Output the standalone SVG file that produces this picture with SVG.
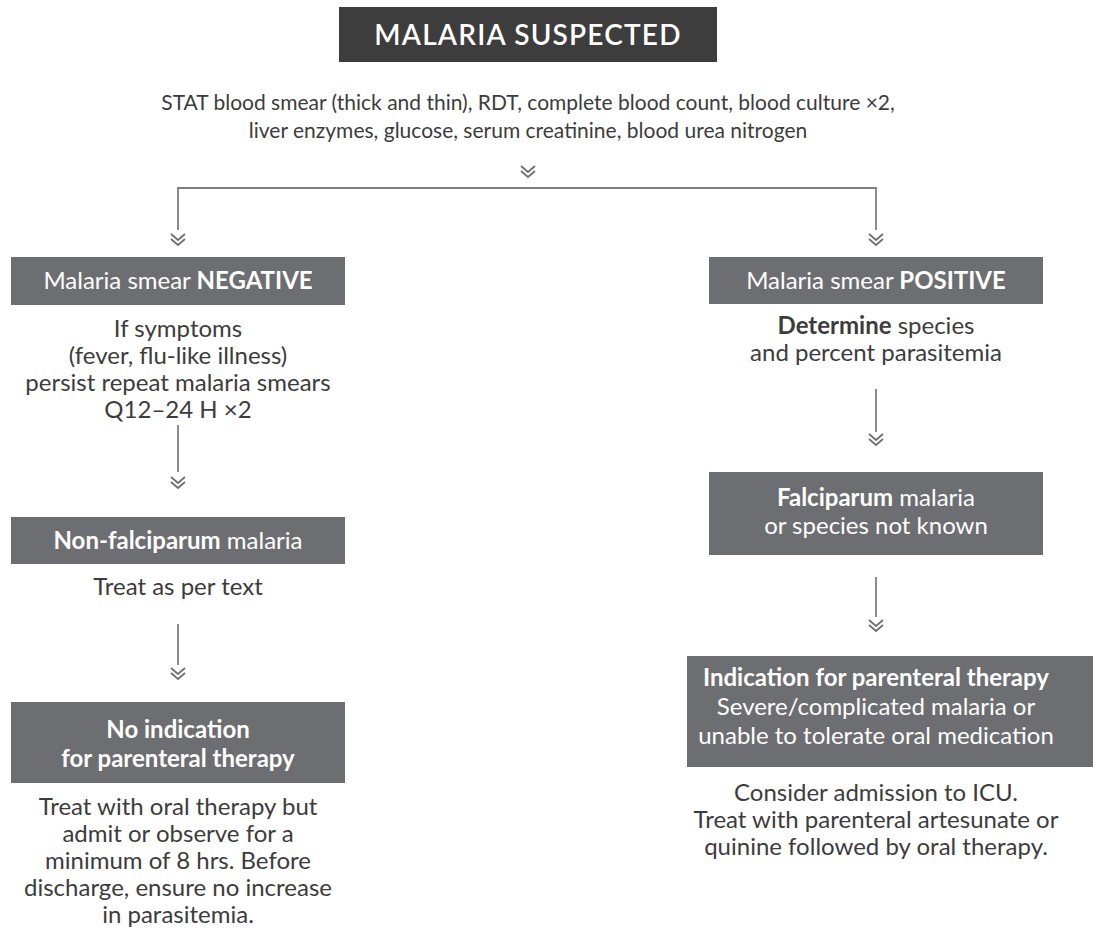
<svg xmlns="http://www.w3.org/2000/svg" width="1093" height="934" viewBox="0 0 1093 934">
<style>
.t{font-family:Lato,"Noto Sans",sans-serif;font-size:24px;fill:#3c3c3c;text-anchor:middle}
.s{font-size:21px}
.w{font-family:Lato,"Noto Sans",sans-serif;font-size:24px;fill:#ffffff;text-anchor:middle}
.b{font-weight:700}
.box{fill:#6d6e71}
.ln{stroke:#808080;stroke-width:1.8;fill:none}
.chev{stroke:#707070;stroke-width:1.8;fill:none}
</style>
<defs>
<g id="chev"><polyline class="chev" points="-7,0 0,6 7,0"/><polyline class="chev" points="-7,5 0,11 7,5"/></g>
</defs>
<g id="title">
<rect x="339" y="7" width="378" height="55" fill="#3d3d3d"/>
<text x="528" y="45" class="w" style="font-size:28px;font-weight:600;letter-spacing:1.2px">MALARIA SUSPECTED</text>
</g>
<g id="tests">
<text x="528" y="110" class="t s">STAT blood smear (thick and thin), RDT, complete blood count, blood culture ×2,</text>
<text x="528" y="138" class="t s">liver enzymes, glucose, serum creatinine, blood urea nitrogen</text>
</g>
<g id="negative">
<rect class="box" x="11" y="257" width="334" height="48"/>
<text x="178" y="289" class="w">Malaria smear <tspan class="b">NEGATIVE</tspan></text>
<text x="178" y="337" class="t">If symptoms</text>
<text x="178" y="364" class="t">(fever, flu-like illness)</text>
<text x="178" y="391" class="t">persist repeat malaria smears</text>
<text x="178" y="418" class="t">Q12–24 H ×2</text>
</g>
<g id="nonfalciparum">
<rect class="box" x="11" y="517" width="334" height="47"/>
<text x="178" y="549" class="w"><tspan class="b">Non-falciparum</tspan> malaria</text>
<text x="178" y="595" class="t">Treat as per text</text>
</g>
<g id="noindication">
<rect class="box" x="11" y="702" width="334" height="81"/>
<text x="178" y="738" class="w b">No indication</text>
<text x="178" y="767" class="w b">for parenteral therapy</text>
<text x="178" y="815" class="t">Treat with oral therapy but</text>
<text x="178" y="842" class="t">admit or observe for a</text>
<text x="178" y="869" class="t">minimum of 8 hrs. Before</text>
<text x="178" y="896" class="t">discharge, ensure no increase</text>
<text x="178" y="923" class="t">in parasitemia.</text>
</g>
<g id="positive">
<rect class="box" x="709" y="257" width="334" height="47"/>
<text x="876" y="289" class="w">Malaria smear <tspan class="b">POSITIVE</tspan></text>
<text x="876" y="334" class="t"><tspan class="b">Determine</tspan> species</text>
<text x="876" y="361" class="t">and percent parasitemia</text>
</g>
<g id="falciparum">
<rect class="box" x="709" y="472" width="334" height="83"/>
<text x="876" y="506" class="w"><tspan class="b">Falciparum</tspan> malaria</text>
<text x="876" y="534" class="w">or species not known</text>
</g>
<g id="indication">
<rect class="box" x="687" y="656" width="406" height="111"/>
<text x="876" y="686" class="w b">Indication for parenteral therapy</text>
<text x="876" y="715" class="w">Severe/complicated malaria or</text>
<text x="876" y="744" class="w">unable to tolerate oral medication</text>
<text x="876" y="801" class="t">Consider admission to ICU.</text>
<text x="876" y="828" class="t">Treat with parenteral artesunate or</text>
<text x="876" y="855" class="t">quinine followed by oral therapy.</text>
</g>
<g id="connectors">
<use href="#chev" x="528" y="166"/>
<path class="ln" d="M178 230 V188 H876 V230"/>
<use href="#chev" x="178" y="234"/>
<use href="#chev" x="876" y="234"/>
<path class="ln" d="M178 425 V472"/>
<use href="#chev" x="178" y="477"/>
<path class="ln" d="M178 624 V665"/>
<use href="#chev" x="178" y="668"/>
<path class="ln" d="M876 389 V432"/>
<use href="#chev" x="876" y="434"/>
<path class="ln" d="M876 577 V617"/>
<use href="#chev" x="876" y="620"/>
</g>
</svg>
